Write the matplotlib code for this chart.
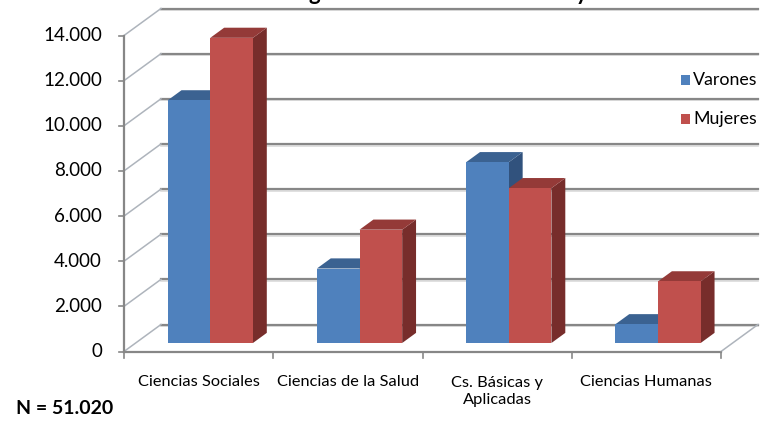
import matplotlib
matplotlib.use("Agg")
import matplotlib.pyplot as plt
import numpy as np
from matplotlib.patches import Polygon, Rectangle
from matplotlib.transforms import IdentityTransform
from matplotlib.lines import Line2D

plt.rcParams['font.family'] = ['Lato', 'DejaVu Sans']

# ---- data ----
categories = ["Ciencias Sociales", "Ciencias de la Salud", "Cs. Básicas y\nAplicadas", "Ciencias Humanas"]
series_names = ["Varones", "Mujeres"]
varones = [10750, 3300, 8010, 830]
mujeres = [13520, 5020, 6860, 2730]
y_ticks = [0, 2000, 4000, 6000, 8000, 10000, 12000, 14000]
total_label = "N = 51.020"
title = "Matrícula según área del conocimiento y sexo"

front_colors = ["#4F81BD", "#C0504D"]
top_colors = ["#3B6291", "#943A38"]
side_colors = ["#31527D", "#772D2B"]
grid_color = "#878787"

W, H = 769, 422
fig = plt.figure(figsize=(W / 100, H / 100), dpi=100)
fig.patch.set_facecolor("white")

# front plane of the oblique 3D box
x0_px, x1_px = 124, 721
y0_px, y1_px = 351.5, 35.5
ax = fig.add_axes([x0_px / W, (H - y0_px) / H, (x1_px - x0_px) / W, (y0_px - y1_px) / H])
ax.set_xlim(0, len(categories))
ax.set_ylim(0, 14000)
ax.axis("off")

# depth direction of the box in display pixels
depth = np.array([37.0, 27.0])
bar_front, bar_back = 0.315, 0.69
bar_w = 1 / 3.5

ident = IdentityTransform()


def disp(x, v, f=0.0):
    p = ax.transData.transform((x, v))
    return p + f * depth


def seg(p, q, **kw):
    ax.add_line(Line2D([p[0], q[0]], [p[1], q[1]], transform=ident, clip_on=False, **kw))


nc = len(categories)

# back wall gridlines and side wall lines
for v in y_ticks:
    a = disp(0, v, 1.0)
    b = disp(nc, v, 1.0)
    seg(a + np.array([0, -1.6]), b + np.array([0, -1.6]), color="#DADADA", lw=1.2, zorder=1)
    seg(a, b, color=grid_color, lw=1.6, zorder=2)
    seg(disp(0, v, 0.0), a, color="#AEB4BC", lw=1.1, zorder=2)

# floor edges
seg(disp(0, 0, 0), disp(nc, 0, 0), color=grid_color, lw=1.6, zorder=2)
seg(disp(nc, 0, 0), disp(nc, 0, 1.0), color="#AEB4BC", lw=1.1, zorder=2)

# value axis line and ticks
seg(disp(0, 0), disp(0, y_ticks[-1]), color=grid_color, lw=1.6, zorder=2)
for v in y_ticks:
    p = disp(0, v)
    seg(p + np.array([-5, 0]), p, color=grid_color, lw=1.2, zorder=2)
    ax.annotate(f"{v:,}".replace(",", "."), xy=(0, v), xytext=(-22, 0),
                textcoords="offset pixels", ha="right", va="center",
                fontsize=13.5, color="black", annotation_clip=False)

# category ticks and labels
for i in range(nc + 1):
    p = disp(i, 0)
    seg(p, p + np.array([0, -6]), color=grid_color, lw=1.2, zorder=2)
for i, c in enumerate(categories):
    ax.annotate(c, xy=(i + 0.5, 0), xytext=(0, -24), textcoords="offset pixels",
                ha="center", va="top", fontsize=11.8, linespacing=1.3,
                annotation_clip=False)

# bars
for i in range(nc):
    for s, vals in enumerate([varones, mujeres]):
        v = vals[i]
        xl = i + 0.5 - bar_w + s * bar_w
        xr = xl + bar_w
        fbl, fbr = disp(xl, 0, bar_front), disp(xr, 0, bar_front)
        ftl, ftr = disp(xl, v, bar_front), disp(xr, v, bar_front)
        btl, btr = disp(xl, v, bar_back), disp(xr, v, bar_back)
        bbr = disp(xr, 0, bar_back)
        z = 5 + i * 2 + s
        ax.add_patch(Polygon([fbr, bbr, btr, ftr], closed=True, transform=ident,
                             facecolor=side_colors[s], edgecolor="none", zorder=z, clip_on=False))
        ax.add_patch(Polygon([ftl, ftr, btr, btl], closed=True, transform=ident,
                             facecolor=top_colors[s], edgecolor="none", zorder=z, clip_on=False))
        ax.add_patch(Polygon([fbl, fbr, ftr, ftl], closed=True, transform=ident,
                             facecolor=front_colors[s], edgecolor="none", zorder=z + 0.1, clip_on=False))

# legend
for s, name in enumerate(series_names):
    yc = 80 + s * 39
    fig.patches.append(Rectangle((681 / W, (H - yc - 5) / H), 9 / W, 10 / H,
                                 transform=fig.transFigure, facecolor=front_colors[s],
                                 edgecolor="none"))
    fig.text(693 / W, (H - yc) / H, name, ha="left", va="center", fontsize=12.8)

# title, sitting at the very top edge of the chart
fig.text(0.537, 1.0 + 0.5 / H, title, ha="center", va="baseline",
         fontsize=16, fontweight="bold")

# total
fig.text(16 / W, (H - 408) / H, total_label, ha="left", va="center",
         fontsize=14, fontweight="bold")

fig.savefig("out.png", dpi=100)
